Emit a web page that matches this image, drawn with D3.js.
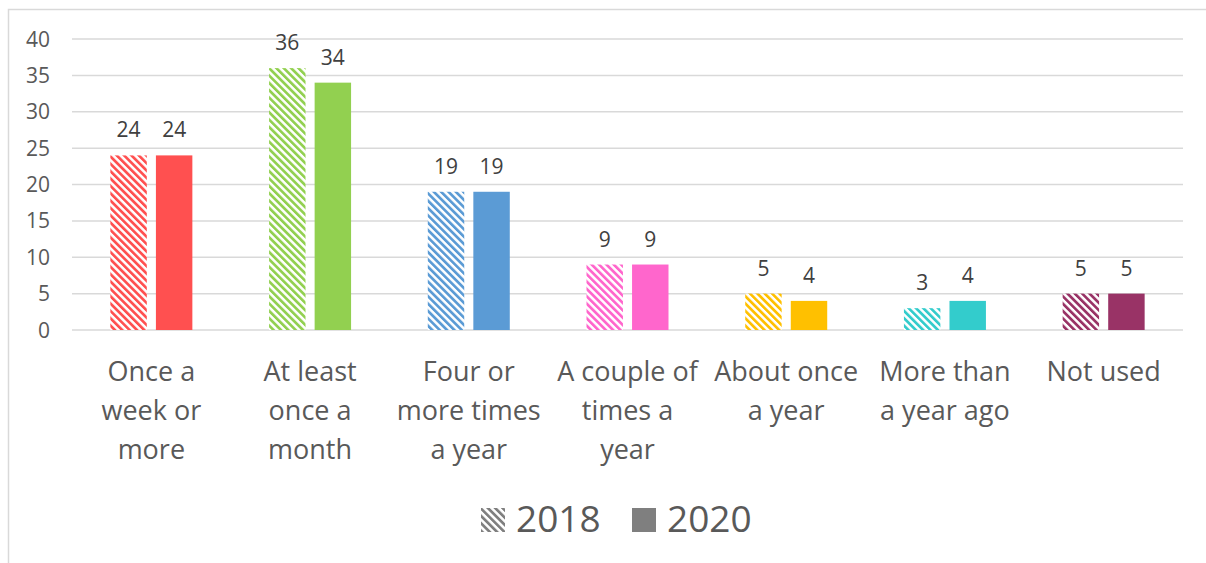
<!DOCTYPE html>
<html>
<head>
<meta charset="utf-8">
<script src="https://cdn.jsdelivr.net/npm/d3@7"></script>
<style>
  body { margin: 0; background: #fff; }
  svg { font-family: "Open Sans", sans-serif; }
</style>
</head>
<body>
<div id="chart"></div>
<script>
// data
var categories = ["Once a week or more", "At least once a month", "Four or more times a year",
                  "A couple of times a year", "About once a year", "More than a year ago", "Not used"];
var categoryLines = [["Once a", "week or", "more"], ["At least", "once a", "month"], ["Four or", "more times", "a year"],
                     ["A couple of", "times a", "year"], ["About once", "a year"], ["More than", "a year ago"], ["Not used"]];
var series = ["2018", "2020"];
var values2018 = [24, 36, 19, 9, 5, 3, 5];
var values2020 = [24, 34, 19, 9, 4, 4, 5];
var barColors = ["#FF5050", "#92D050", "#5B9BD5", "#FF66CC", "#FFC000", "#33CCCC", "#993366"];
var yTicks = [0, 5, 10, 15, 20, 25, 30, 35, 40];

var W = 1206, H = 563;
var margin = {top: 39, right: 23, bottom: 233, left: 72},
    width = W - margin.left - margin.right,
    height = H - margin.top - margin.bottom;

var svg = d3.select("#chart").append("svg")
    .attr("width", W)
    .attr("height", H);

// hatch patterns, one per colour
var defs = svg.append("defs");
function hatch(id, color) {
  var p = defs.append("pattern")
    .attr("id", id)
    .attr("patternUnits", "userSpaceOnUse")
    .attr("width", 5.2)
    .attr("height", 5.2)
    .attr("patternTransform", "rotate(-45)");
  p.append("rect").attr("width", 5.2).attr("height", 5.2).attr("fill", "#fff");
  p.append("rect").attr("width", 2.7).attr("height", 5.2).attr("fill", color);
}
barColors.forEach(function(c, i) { hatch("hatch" + i, c); });
hatch("hatchLegend", "#7F7F7F");

// chart frame (only top and left edges are visible)
svg.append("path")
  .attr("d", "M8.5," + H + "V9.5H" + W)
  .attr("fill", "none")
  .attr("stroke", "#d9d9d9")
  .attr("stroke-width", 1.5);

var g = svg.append("g")
  .attr("transform", "translate(" + margin.left + "," + margin.top + ")");

var x0 = d3.scaleBand().domain(categories).range([0, width]);
var x1 = d3.scaleBand().domain(series)
  .range([x0.bandwidth() / 2 - 41, x0.bandwidth() / 2 + 41])
  .paddingInner(0.2);
var y = d3.scaleLinear().domain([0, 40]).range([height, 0]);

// gridlines
g.selectAll(".grid").data(yTicks).enter().append("line")
  .attr("x1", 0).attr("x2", width)
  .attr("y1", function(d) { return y(d); })
  .attr("y2", function(d) { return y(d); })
  .attr("stroke", "#d9d9d9")
  .attr("stroke-width", 1.5);

// y labels
g.selectAll(".ylab").data(yTicks).enter().append("text")
  .attr("x", -22)
  .attr("y", function(d) { return y(d); })
  .attr("dy", "0.36em")
  .attr("text-anchor", "end")
  .attr("fill", "#595959")
  .style("font-size", "21px")
  .text(function(d) { return d; });

// bars
var rows = categories.map(function(c, i) {
  return {cat: c, i: i, vals: [values2018[i], values2020[i]]};
});

var groups = g.selectAll(".cat").data(rows).enter().append("g")
  .attr("transform", function(d) { return "translate(" + x0(d.cat) + ",0)"; });

groups.selectAll("rect").data(function(d) {
    return series.map(function(s, k) { return {s: s, k: k, v: d.vals[k], i: d.i}; });
  })
  .enter().append("rect")
    .attr("x", function(d) { return x1(d.s); })
    .attr("width", x1.bandwidth())
    .attr("y", function(d) { return y(d.v); })
    .attr("height", function(d) { return height - y(d.v); })
    .attr("fill", function(d) { return d.k == 0 ? "url(#hatch" + d.i + ")" : barColors[d.i]; });

// value labels
groups.selectAll(".val").data(function(d) {
    return series.map(function(s, k) { return {s: s, v: d.vals[k]}; });
  })
  .enter().append("text")
    .attr("x", function(d) { return x1(d.s) + x1.bandwidth() / 2; })
    .attr("y", function(d) { return y(d.v) - 18; })
    .attr("text-anchor", "middle")
    .attr("fill", "#404040")
    .style("font-size", "21px")
    .text(function(d) { return d.v; });

// category labels
groups.append("text")
  .attr("text-anchor", "middle")
  .attr("fill", "#595959")
  .style("font-size", "27px")
  .selectAll("tspan").data(function(d) { return categoryLines[d.i]; })
  .enter().append("tspan")
    .attr("x", x0.bandwidth() / 2)
    .attr("y", function(d, j) { return height + 51 + j * 39; })
    .text(function(d) { return d; });

// legend
var legend = svg.append("g");
legend.append("rect").attr("x", 481).attr("y", 508).attr("width", 24).attr("height", 24)
  .attr("fill", "url(#hatchLegend)");
legend.append("text").attr("x", 516).attr("y", 532)
  .attr("fill", "#595959").style("font-size", "37px").text(series[0]);
legend.append("rect").attr("x", 632).attr("y", 508).attr("width", 24).attr("height", 24)
  .attr("fill", "#7F7F7F");
legend.append("text").attr("x", 667).attr("y", 532)
  .attr("fill", "#595959").style("font-size", "37px").text(series[1]);
</script>
</body>
</html>
